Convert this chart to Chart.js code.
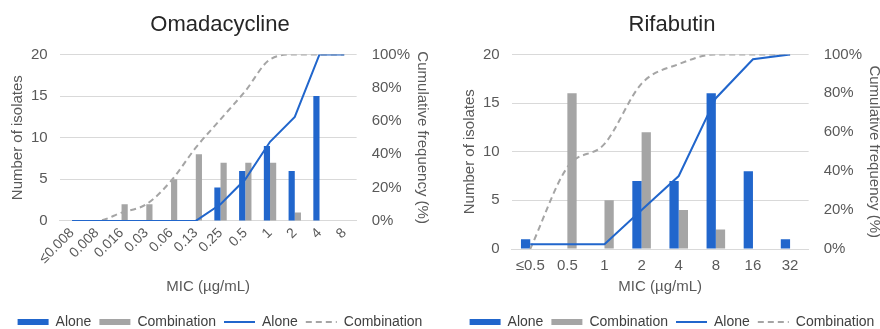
<!DOCTYPE html>
<html lang="en">
<head>
<meta charset="UTF-8">
<title>MIC distribution</title>
<script src="https://cdn.jsdelivr.net/npm/chart.js@4/dist/chart.umd.min.js"></script>
<style>
  body { margin: 0; background: #fff; overflow: hidden; width: 880px; height: 329px; position: relative; }
  .box { position: absolute; top: 0; width: 440px; height: 339px; }
</style>
</head>
<body>
<div class="box" style="left:0"><canvas id="omada" width="440" height="339"></canvas></div>
<div class="box" style="left:452px"><canvas id="rifa" width="440" height="339"></canvas></div>
<script>
// Omadacycline
const omadaLabels = ['≤0.008', '0.008', '0.016', '0.03', '0.06', '0.13', '0.25', '0.5', '1', '2', '4', '8'];
const omadaAlone = [0, 0, 0, 0, 0, 0, 4, 6, 9, 6, 15, 0];
const omadaCombo = [0, 0, 2, 2, 5, 8, 7, 7, 7, 1, 0, 0];
const omadaAloneCum = [0, 0, 0, 0, 0, 0, 10, 25, 47.5, 62.5, 100, 100];
const omadaComboCum = [0, 0, 5, 10, 24, 44, 61, 78, 97, 100, 100, 100];

// Rifabutin
const rifaLabels = ['≤0.5', '0.5', '1', '2', '4', '8', '16', '32'];
const rifaAlone = [1, 0, 0, 7, 7, 16, 8, 1];
const rifaCombo = [0, 16, 5, 12, 4, 2, 0, 0];
const rifaAloneCum = [2.5, 2.5, 2.5, 20, 37.5, 77.5, 97.5, 100];
const rifaComboCum = [0, 42, 54, 85, 95, 100, 100, 100];

const blue = '#2166CC';
const gray = '#A5A5A5';
const grid = '#D9D9D9';
const txt = '#595959';

Chart.defaults.font.family = "'Liberation Sans', Arial, sans-serif";
Chart.defaults.color = txt;

function makeChart(id, title, labels, alone, combo, aloneCum, comboCum, rotated) {
  new Chart(document.getElementById(id), {
    type: 'bar',
    data: {
      labels: labels,
      datasets: [
        { type: 'bar', label: 'Alone', data: alone, backgroundColor: blue, yAxisID: 'y', order: 1,
          categoryPercentage: 0.5, barPercentage: 1 },
        { type: 'bar', label: 'Combination', data: combo, backgroundColor: gray, yAxisID: 'y', order: 1,
          categoryPercentage: 0.5, barPercentage: 1 },
        { type: 'line', label: 'Alone', data: aloneCum, borderColor: blue, borderWidth: 2,
          pointRadius: 0, yAxisID: 'y1', order: 0 },
        { type: 'line', label: 'Combination', data: comboCum, borderColor: gray, borderWidth: 2,
          borderDash: [6, 4], pointRadius: 0, yAxisID: 'y1', order: 0, cubicInterpolationMode: 'monotone' }
      ]
    },
    options: {
      responsive: false,
      animation: false,
      layout: { padding: { left: 5, right: 5, top: 0, bottom: 0 } },
      plugins: {
        tooltip: { enabled: false },
        title: {
          display: true, text: title, color: '#262626',
          font: { size: 22, weight: 'normal' }, padding: { top: 12, bottom: 16 }
        },
        legend: {
          position: 'bottom',
          labels: {
            usePointStyle: true, pointStyleWidth: 31, boxHeight: 6, padding: 8,
            color: '#404040', font: { size: 14 },
            generateLabels: function (chart) {
              return chart.data.datasets.map(function (ds, i) {
                const isLine = ds.type === 'line';
                return {
                  text: ds.label, datasetIndex: i, hidden: false,
                  fillStyle: isLine ? 'rgba(0,0,0,0)' : ds.backgroundColor,
                  strokeStyle: isLine ? ds.borderColor : ds.backgroundColor,
                  lineWidth: isLine ? 2 : 0,
                  lineDash: ds.borderDash || [],
                  pointStyle: isLine ? 'line' : 'rect',
                  fontColor: '#404040'
                };
              });
            }
          }
        }
      },
      scales: {
        x: {
          grid: { display: false, drawTicks: false },
          border: { color: grid },
          ticks: {
            color: txt, font: { size: rotated ? 14 : 15 }, padding: rotated ? 4 : 8,
            maxRotation: rotated ? 45 : 0, minRotation: rotated ? 45 : 0, autoSkip: false
          },
          title: { display: true, text: 'MIC (µg/mL)', color: txt, font: { size: 15 },
                   padding: { top: rotated ? 7 : -5, bottom: 11 } }
        },
        y: {
          position: 'left', min: 0, max: 20,
          grid: { color: grid, drawTicks: false },
          border: { display: false },
          ticks: { stepSize: 5, padding: 12, color: txt, font: { size: 15 } },
          title: { display: true, text: 'Number of isolates', color: txt, font: { size: 15 },
                   padding: { top: 4, bottom: -8 } }
        },
        y1: {
          position: 'right', min: 0, max: 100,
          grid: { drawOnChartArea: false, drawTicks: false },
          border: { display: false },
          ticks: { stepSize: 20, padding: 15, color: txt, font: { size: 15 },
                   callback: function (v) { return v + '%'; } },
          title: { display: true, text: 'Cumulative frequency (%)', color: txt, font: { size: 15 },
                   padding: { top: 4, bottom: -12 } }
        }
      }
    }
  });
}

makeChart('omada', 'Omadacycline', omadaLabels, omadaAlone, omadaCombo, omadaAloneCum, omadaComboCum, true);
makeChart('rifa', 'Rifabutin', rifaLabels, rifaAlone, rifaCombo, rifaAloneCum, rifaComboCum, false);
</script>
</body>
</html>
